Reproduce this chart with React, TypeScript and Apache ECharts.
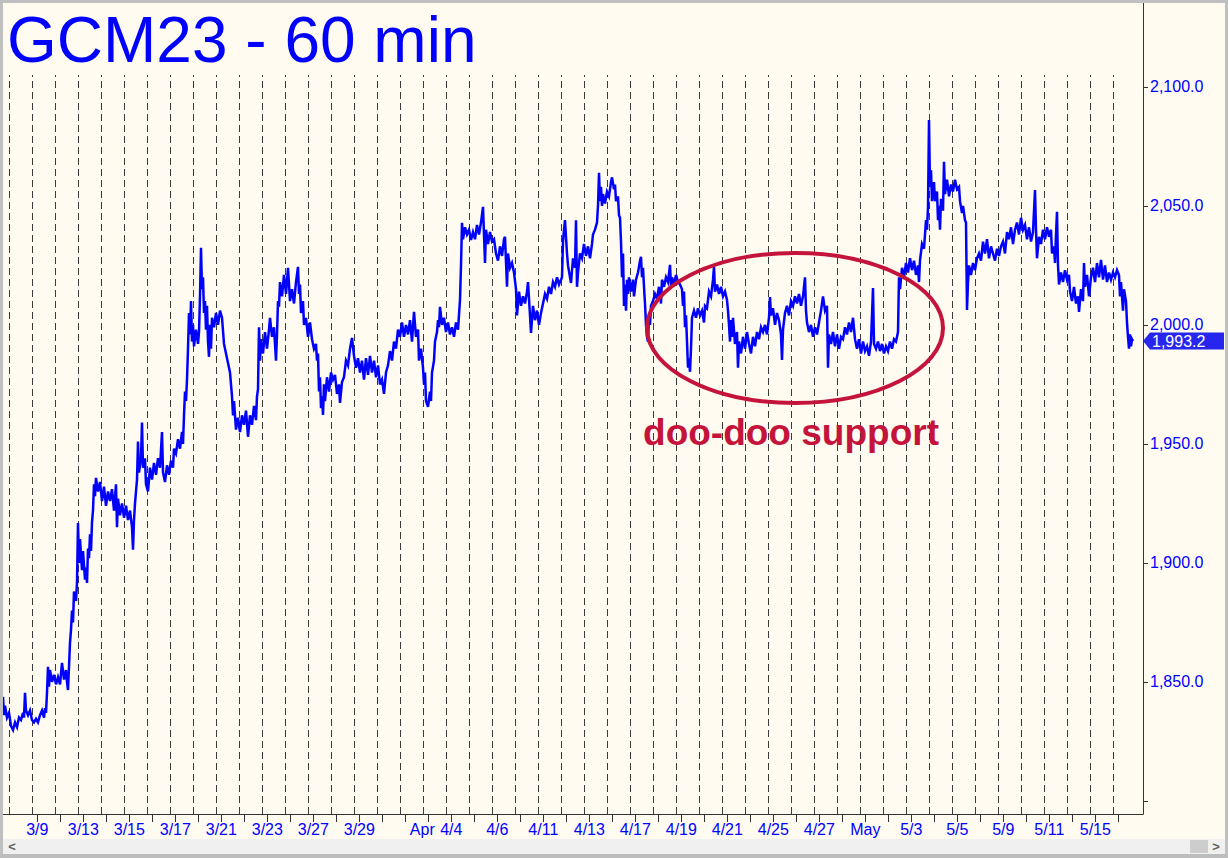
import React, { useEffect, useRef } from "react";
import * as echarts from "echarts";

// ---- price trace: [bar number (1 bar = 1 hour), price] ----
const trace: [number, number][] = [
  [3,1843.7],[4,1836],[5,1840],[7,1835],[9,1837],[11,1831.5],[13,1829.8],[15,1833],[17,1831],[19,1835],
  [21,1834],[23,1837],[24,1835],[25,1845.4],[26,1838],[28,1836],[30,1838],[32,1834],[34,1833],[36,1834.5],
  [38,1833],[40,1836],[42,1838],[44,1835],[45,1839],[46,1837],[47,1845.4],[48,1856.3],[49,1848],[50,1855],
  [52,1850],[54,1853],[56,1849],[58,1852],[60,1849],[62,1858],[64,1851],[66,1855],[67,1850],[68,1846.6],
  [70,1866.4],[71,1872],[72,1880],[73,1875],[74,1888],[76,1884],[77,1891.6],[78,1916.8],[79,1900],[80,1910],
  [82,1897],[83,1905],[85,1893],[86,1898],[87,1891.6],[88,1906],[89,1902],[90,1912],[91,1905],[92,1917],
  [93,1922],[94,1933],[95,1928],[96,1935.7],[98,1930],[100,1934],[102,1926],[104,1932],[106,1924],[108,1930],
  [110,1926],[112,1931],[114,1922],[116,1933],[117,1915],[118,1927],[120,1920],[122,1925],[124,1919],[126,1924],
  [128,1918],[130,1922],[132,1915],[133,1905.5],[134,1918],[135,1925],[136,1930],[137,1935],[138,1951],[139,1938],
  [141,1944],[142,1959],[143,1940],[145,1944],[146,1933],[148,1930],[150,1940],[152,1935],[154,1942],[156,1937],
  [158,1944],[160,1940],[162,1955],[163,1938],[165,1934],[167,1941],[169,1937],[171,1943],[173,1940],[174,1948],
  [176,1946],[178,1952],[180,1948],[182,1955],[183,1950],[184,1962],[185,1972],[186,1968],[187,1977],[188,1990],
  [189,2005],[190,1996],[191,2010],[192,1993],[193,2000],[194,1991],[196,1998],[198,1992],[199,1997],[200,2012],
  [201,2032.4],[202,2015],[203,2020],[204,2005],[205,2010],[206,1998],[207,2008],[208,1993],[209,1986.6],[210,2000],
  [211,1990],[212,2003],[214,1999],[216,2005],[218,2000],[220,2006],[222,2003],[224,1992],[226,1988],[228,1984],
  [230,1980],[231,1975],[232,1970],[233,1962],[234,1968],[236,1956],[238,1961],[240,1955],[242,1962],[244,1958],
  [246,1964],[248,1953],[250,1962],[252,1958],[254,1966],[256,1960],[257,1970],[258,1973],[259,1999],[260,1985],
  [261,1994],[263,1988],[265,1997],[267,1990],[269,1998],[270,2003],[272,1995],[274,1999],[276,1985],[277,1996],
  [278,2010],[279,2007.6],[280,2018],[282,2012],[284,2021],[286,2013],[288,2024],[290,2010],[292,2015],[294,2009],
  [296,2018],[298,2024.4],[299,2013],[300,2017],[301,2005],[303,2010],[304,2000],[306,2003],[308,1995],[310,2001],
  [312,1994],[314,1990],[316,1992],[317,1985],[318,1988],[319,1972],[320,1978],[321,1965],[322,1970],[323,1962.2],
  [324,1975],[325,1968],[327,1978],[329,1972],[331,1980],[333,1977],[335,1979],[337,1971],[339,1975],[340,1967.2],
  [342,1976],[344,1978],[346,1985],[348,1983],[350,1990],[352,1994.5],[354,1987],[356,1982],[358,1986],[360,1980],
  [362,1985],[364,1977],[366,1986],[368,1979],[370,1987],[372,1980],[374,1985],[376,1978],[378,1983],[380,1975],
  [382,1977],[384,1971],[386,1980],[388,1983],[390,1989],[392,1985],[394,1993],[396,1990],[398,1998],[400,1995],
  [402,2001],[404,1995],[406,2000],[408,1996],[410,2002],[412,1993],[414,2005.5],[416,1995],[418,1998],[419,1985],
  [421,1990],[423,1982],[424,1975],[425,1980],[426,1968],[428,1965.6],[430,1972],[431,1968],[432,1980],[434,1985],
  [435,1993],[437,1997],[438,2002],[439,1999],[440,2007.6],[442,2000],[444,2003],[446,1997],[448,2001],[450,1996],
  [452,1999],[454,1995],[456,2001],[458,1998],[460,2010.5],[461,2025],[462,2042.9],[463,2036],[465,2041],[467,2038],
  [469,2040],[471,2035.7],[473,2039],[475,2036],[477,2042],[479,2038],[481,2043],[483,2049.6],[484,2038],[485,2026],
  [486,2040],[488,2034],[490,2039],[492,2035],[494,2036],[496,2030],[498,2027],[500,2033],[502,2029],[504,2036],
  [505,2037],[507,2016],[508,2030],[510,2024],[512,2026],[514,2022],[516,2015],[517,2004],[519,2014],[521,2008],
  [523,2012],[525,2009],[527,2014],[528,2018],[530,2004],[531,1996.6],[533,2008],[535,2002],[537,2006],[539,2000],
  [541,2005],[543,2009],[545,2013],[547,2011],[549,2016],[551,2013],[553,2018],[555,2016],[557,2020],[559,2017],
  [561,2019],[562,2020],[563,2035],[564,2040],[565,2044],[566,2037],[567,2030],[568,2025],[570,2020],[571,2017.6],
  [573,2028],[575,2024],[576,2044],[577,2016],[578,2022],[580,2030],[582,2028],[584,2034],[586,2029],[588,2033],
  [590,2028],[592,2034],[593,2038],[595,2040],[597,2043],[598,2050],[599,2063.9],[600,2052],[601,2058],[602,2050],
  [603,2055],[605,2051],[607,2056],[609,2054],[611,2060],[612,2062],[614,2057],[615,2059],[616,2052],[618,2054],
  [619,2046],[620,2045],[621,2035],[622,2020],[623,2030],[624,2008],[625,2017],[626,2006],[627,2019],[628,2013],
  [629,2020],[631,2014],[633,2019],[634,2012],[636,2019],[638,2022],[640,2027],[641,2028.6],[642,2020],[643,2024],
  [644,2016],[645,2009],[646,2000],[647,1995],[648,1992.9],[649,2004],[650,2000],[651,2008],[653,2010],[655,2013],
  [657,2011],[659,2016],[661,2009],[662,2019],[664,2016],[666,2020],[668,2018],[670,2025.2],[671,2016],[672,2020],
  [674,2017],[676,2021],[678,2018],[680,2017],[682,2015],[683,2008],[684,2014],[685,1999],[686,2004],[687,1993],
  [688,1982],[689,1986],[690,1980.3],[691,1990],[692,2003],[694,2006],[696,2003],[698,2007],[700,2004],[702,2006],
  [704,2001],[705,2008],[707,2007],[709,2014],[711,2012],[713,2019],[714,2024.4],[715,2014],[717,2017],[719,2013],
  [721,2016],[723,2012],[725,2014],[727,2010.5],[728,2006],[729,2000],[730,1993],[731,2002],[732,1995],[733,2003],
  [735,1992],[737,1997],[738,1982],[739,1993],[741,1988],[743,1995],[745,1990],[747,1997],[749,1992],[751,1988],
  [753,1995],[755,1991],[757,1997],[759,1994],[761,1999],[763,1997],[765,2000],[767,1996],[769,2003],[770,2011.7],
  [771,2004],[773,2007],[775,2000],[777,2005],[779,2002],[781,1996],[782,1985.3],[783,1998],[785,2005],[787,2008],
  [789,2004],[791,2010],[793,2008],[795,2012],[797,2009],[799,2013],[801,2008],[803,2012],[805,2020],[806,2006],
  [807,2001],[809,1997],[811,2000],[813,1995],[815,1999],[817,1996],[819,2001],[821,2006],[823,2012],[825,2006],
  [827,2008],[828,1982],[829,1996],[831,1992],[833,1997],[835,1991],[837,1996],[839,1990],[841,1995],[843,1994],
  [845,1999],[847,1996],[849,2001],[851,1997],[853,2003],[855,1994],[857,1990],[859,1994],[861,1988],[863,1993],
  [865,1989],[867,1991],[869,1987],[871,1993],[873,2015.5],[874,1992],[876,1990],[878,1993],[880,1989],[882,1992],
  [884,1988],[886,1991],[888,1989],[890,1993],[892,1990],[894,1994],[896,1993],[898,1997],[899,2020],[900,2015],
  [902,2024],[904,2020],[906,2026],[908,2022],[910,2028],[912,2023],[914,2027],[916,2021],[918,2025],[919,2018],
  [920,2027],[922,2034],[924,2032],[926,2044],[927,2040],[928,2049.6],[929,2086.1],[930,2058],[931,2065],[932,2052],
  [934,2060],[935,2052],[937,2056],[938,2044],[939,2050],[940,2040],[941,2053],[943,2048],[944,2068.5],[945,2055],
  [947,2061],[949,2054],[951,2059],[953,2056],[955,2061],[957,2057],[959,2058],[960,2052],[962,2047],[963,2050],
  [965,2044],[966,2043],[967,2006.3],[968,2018],[969,2025],[971,2021],[973,2026],[975,2023],[977,2028],[979,2030],
  [981,2027],[983,2035],[985,2030],[987,2036],[989,2028],[991,2033],[993,2030],[995,2027],[997,2032],[999,2029],
  [1001,2033],[1003,2035],[1005,2030],[1007,2039],[1009,2036],[1011,2041],[1013,2034],[1015,2040],[1017,2043],[1019,2038],
  [1021,2045],[1023,2040],[1025,2042],[1027,2036],[1029,2041],[1031,2035],[1033,2039],[1035,2056.7],[1036,2040],[1037,2028],
  [1039,2037],[1041,2034],[1043,2040],[1045,2036],[1047,2041],[1049,2037],[1051,2040],[1052,2030],[1054,2033],[1055,2026],
  [1056,2038],[1057,2047.5],[1058,2025],[1059,2017],[1061,2022],[1063,2018],[1065,2023],[1067,2019],[1069,2021],[1070,2014],
  [1072,2010],[1074,2016],[1076,2009],[1078,2012],[1079,2005.5],[1081,2015],[1083,2010],[1084,2026],[1085,2016],[1087,2021],
  [1089,2012],[1091,2020],[1093,2024],[1095,2018],[1097,2026],[1099,2020],[1101,2027.3],[1103,2019],[1105,2025],[1107,2018],
  [1109,2022],[1111,2019],[1113,2022],[1115,2020],[1117,2023],[1119,2021],[1120,2012],[1121,2018],[1123,2006],[1124,2015],
  [1126,2010],[1127,2001],[1128,1995],[1129,1990],[1130,1996],[1131,1991],[1132,1994],[1133,1993.2],
];

// ---- trading sessions (one dashed line per session start) ----
const sessions = [
  "3/8","3/9","3/10","3/13","3/14","3/15","3/16","3/17","3/20","3/21","3/22","3/23","3/24",
  "3/27","3/28","3/29","3/30","3/31","4/3","4/4","4/5","4/6","4/10","4/11","4/12","4/13","4/14",
  "4/17","4/18","4/19","4/20","4/21","4/24","4/25","4/26","4/27","4/28","5/1","5/2","5/3","5/4",
  "5/5","5/8","5/9","5/10","5/11","5/12","5/15","5/16",
];
const dayLabels: Record<string, string> = {
  "3/9":"3/9","3/13":"3/13","3/15":"3/15","3/17":"3/17","3/21":"3/21","3/23":"3/23","3/27":"3/27",
  "3/29":"3/29","4/3":"Apr","4/4":"4/4","4/6":"4/6","4/11":"4/11","4/13":"4/13","4/17":"4/17",
  "4/19":"4/19","4/21":"4/21","4/25":"4/25","4/27":"4/27","5/1":"May","5/3":"5/3","5/5":"5/5",
  "5/9":"5/9","5/11":"5/11","5/15":"5/15",
};
const monthNames = ["Apr", "May"];
const priceLabels = [1850, 1900, 1950, 2000, 2050, 2100];
const priceTicks = [1800, 1850, 1900, 1950, 2000, 2050, 2100];

const TITLE = "GCM23 - 60 min";
const NOTE = "doo-doo support";
const supportZone = { centerBar: 795, centerPrice: 1998.7, halfBars: 148, halfPrice: 31.5 };
const noteAnchor = { bar: 791, price: 1955 };

const FIRST_SESSION_BAR = 9.3;
const BARS_PER_SESSION = 23;
const MIDNIGHT_OFFSET = 5;

const BLUE = "#0000ff";
const RED = "#c4143c";
const BG = "#fffbf0";
const FONT = "'Liberation Sans', Arial, sans-serif";

export default function App() {
  const ref = useRef<HTMLDivElement>(null);

  useEffect(() => {
    const el = ref.current!;
    const chart = echarts.init(el, undefined, { renderer: "svg" });

    const sessionStarts = sessions.map((_, j) => FIRST_SESSION_BAR + BARS_PER_SESSION * j);
    const tickBars = sessions.slice(1).map((_, i) => sessionStarts[i + 1] + MIDNIGHT_OFFSET);
    const labelBars: number[] = [];
    const labelText: string[] = [];
    sessions.forEach((d, j) => {
      if (dayLabels[d]) {
        labelBars.push(sessionStarts[j] + MIDNIGHT_OFFSET);
        labelText.push(dayLabels[d]);
      }
    });
    const fmtLabel = (v: number) => {
      const i = labelBars.findIndex((b) => Math.abs(b - v) < 0.5);
      if (i < 0) return "";
      const t = labelText[i];
      return t === "Apr" ? "{m|" + t + "}" : t;
    };
    const fmtPrice = (v: number) =>
      v.toLocaleString("en-US", { minimumFractionDigits: 1, maximumFractionDigits: 1 });

    chart.setOption({
      animation: false,
      backgroundColor: BG,
      grid: { left: 3, right: 85, top: 75, bottom: 44, containLabel: false },
      xAxis: {
        type: "value",
        min: 3,
        max: 1143,
        position: "bottom",
        axisLine: { show: true, onZero: false, lineStyle: { color: "#333", width: 1 } },
        axisTick: { show: true, customValues: tickBars, length: 8, inside: false, lineStyle: { color: "#333" } },
        axisLabel: {
          show: true,
          customValues: labelBars,
          formatter: fmtLabel,
          color: BLUE,
          fontSize: 16,
          fontFamily: FONT,
          margin: 7,
          hideOverlap: false,
          rich: {
            m: { color: BLUE, fontSize: 16, fontFamily: FONT, padding: [0, 12, 0, 0] },
          },
        },
        splitLine: { show: false },
      },
      yAxis: {
        type: "value",
        position: "right",
        min: 1794.5,
        max: 2105,
        axisLine: { show: true, onZero: false, lineStyle: { color: "#333", width: 1 } },
        axisTick: { show: true, customValues: priceTicks, length: 5, inside: false, lineStyle: { color: "#333" } },
        axisLabel: {
          show: true,
          customValues: priceLabels,
          formatter: fmtPrice,
          color: BLUE,
          fontSize: 16,
          fontFamily: FONT,
          margin: 7,
        },
        splitLine: { show: false },
      },
      series: [
        {
          type: "line",
          name: "sessions",
          data: [],
          z: 1,
          silent: true,
          markLine: {
            z: 1,
            silent: true,
            symbol: ["none", "none"],
            label: { show: false },
            lineStyle: { color: "#3a3a3a", width: 1, type: [7, 4] },
            data: sessionStarts.map((b) => ({ xAxis: b })),
          },
        },
        {
          type: "line",
          name: "GCM23",
          data: trace,
          z: 3,
          showSymbol: false,
          symbol: "none",
          clip: true,
          lineStyle: { color: BLUE, width: 2.5, join: "miter" },
        },
      ],
    });

    const last = trace[trace.length - 1];
    const [axX, pY] = chart.convertToPixel({ gridIndex: 0 }, [1143, last[1]]) as number[];
    const [cx, cy] = chart.convertToPixel({ gridIndex: 0 }, [supportZone.centerBar, supportZone.centerPrice]) as number[];
    const [ex, ey] = chart.convertToPixel({ gridIndex: 0 }, [
      supportZone.centerBar + supportZone.halfBars,
      supportZone.centerPrice - supportZone.halfPrice,
    ]) as number[];
    const [nx, ny] = chart.convertToPixel({ gridIndex: 0 }, [noteAnchor.bar, noteAnchor.price]) as number[];
    const [, topY] = chart.convertToPixel({ gridIndex: 0 }, [1143, 2105]) as number[];

    chart.setOption({
      graphic: [
        { type: "line", shape: { x1: axX + 0.5, y1: 2, x2: axX + 0.5, y2: topY }, style: { stroke: "#333", lineWidth: 1 }, z: 5 },
        {
          type: "text",
          x: 7,
          y: 40,
          style: { text: TITLE, fill: BLUE, fontSize: 64, fontFamily: FONT, verticalAlign: "middle", align: "left" },
          z: 10,
        },
        {
          type: "ellipse",
          shape: { cx, cy, rx: Math.abs(ex - cx), ry: Math.abs(ey - cy) },
          style: { fill: "none", stroke: RED, lineWidth: 4 },
          z: 10,
        },
        {
          type: "text",
          x: nx,
          y: ny,
          style: {
            text: NOTE,
            fill: RED,
            fontSize: 37,
            fontWeight: "bold",
            fontFamily: FONT,
            align: "center",
            verticalAlign: "middle",
          },
          z: 10,
        },
        {
          type: "polygon",
          shape: {
            points: [
              [axX, pY],
              [axX + 7, pY - 8.5],
              [1224, pY - 8.5],
              [1224, pY + 8.5],
              [axX + 7, pY + 8.5],
            ],
          },
          style: { fill: "#2626ee" },
          z: 10,
        },
        {
          type: "text",
          x: axX + 9,
          y: pY,
          style: { text: fmtPrice(last[1]), fill: "#ffffff", fontSize: 16, fontFamily: FONT, verticalAlign: "middle" },
          z: 11,
        },
        { type: "rect", shape: { x: 3, y: 839, width: 1222, height: 15 }, style: { fill: "#f0f0f0" }, z: 10 },
        { type: "rect", shape: { x: 1190, y: 840, width: 18, height: 13 }, style: { fill: "#cdcdcd" }, z: 11 },
        { type: "text", x: 12, y: 846, style: { text: "<", fill: "#606060", fontSize: 13, fontWeight: "bold", fontFamily: FONT, align: "center", verticalAlign: "middle" }, z: 11 },
        { type: "text", x: 1216, y: 846, style: { text: ">", fill: "#606060", fontSize: 13, fontWeight: "bold", fontFamily: FONT, align: "center", verticalAlign: "middle" }, z: 11 },
        { type: "rect", shape: { x: 0, y: 0, width: 1228, height: 3 }, style: { fill: "#c0c0c0" }, z: 12 },
        { type: "rect", shape: { x: 0, y: 0, width: 3, height: 858 }, style: { fill: "#c0c0c0" }, z: 12 },
        { type: "rect", shape: { x: 1225, y: 0, width: 3, height: 858 }, style: { fill: "#c0c0c0" }, z: 12 },
        { type: "rect", shape: { x: 0, y: 854, width: 1228, height: 4 }, style: { fill: "#bdbdbd" }, z: 12 },
      ],
    });

    return () => chart.dispose();
  }, []);

  return (
    <div
      ref={ref}
      style={{ position: "fixed", left: 0, top: 0, width: 1228, height: 858 }}
    />
  );
}
